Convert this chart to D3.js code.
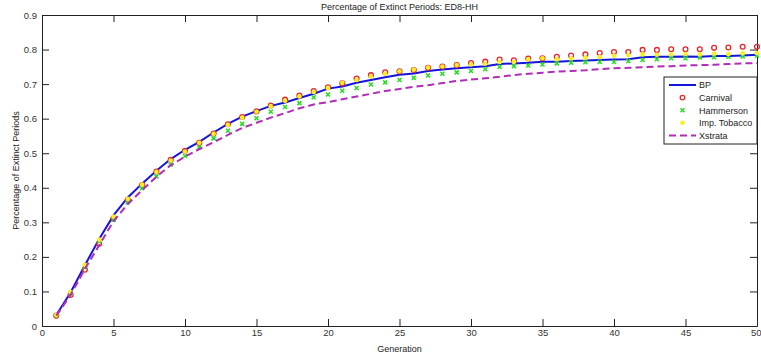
<!DOCTYPE html>
<html>
<head>
<meta charset="utf-8">
<script src="https://cdn.jsdelivr.net/npm/d3@7"></script>
<style>
  body { margin: 0; background: #fff; }
  svg { display: block; font-family: "Liberation Sans", Arial, sans-serif; }
</style>
</head>
<body>
<div id="wrapper"></div>
<script>
// generations 1..50
const generations = d3.range(1, 51);

const bp = [0.032,0.097,0.176,0.252,0.320,0.372,0.412,0.449,0.483,0.510,
  0.533,0.560,0.585,0.606,0.622,0.637,0.647,0.660,0.672,0.687,
  0.693,0.704,0.712,0.720,0.727,0.731,0.738,0.742,0.746,0.749,
  0.752,0.758,0.760,0.762,0.765,0.765,0.767,0.768,0.770,0.771,
  0.772,0.778,0.779,0.779,0.780,0.779,0.781,0.781,0.783,0.785];

const carnival = [0.030,0.090,0.163,0.238,0.312,0.365,0.408,0.447,0.481,0.507,
  0.530,0.557,0.584,0.605,0.621,0.638,0.655,0.667,0.680,0.691,
  0.702,0.716,0.726,0.734,0.737,0.741,0.747,0.751,0.755,0.761,
  0.765,0.771,0.769,0.774,0.775,0.779,0.783,0.786,0.790,0.793,
  0.793,0.799,0.799,0.801,0.801,0.801,0.805,0.806,0.808,0.808];

const hammerson = [0.031,0.094,0.170,0.245,0.307,0.358,0.399,0.433,0.467,0.492,
  0.517,0.543,0.565,0.585,0.601,0.620,0.634,0.645,0.662,0.670,
  0.681,0.689,0.699,0.705,0.712,0.718,0.725,0.730,0.734,0.738,
  0.743,0.750,0.752,0.754,0.757,0.760,0.762,0.763,0.764,0.764,
  0.767,0.770,0.772,0.775,0.775,0.777,0.778,0.779,0.780,0.782];

const impTobacco = [0.032,0.098,0.177,0.250,0.317,0.368,0.409,0.446,0.479,0.505,
  0.530,0.556,0.582,0.603,0.620,0.636,0.652,0.664,0.677,0.689,
  0.704,0.712,0.722,0.730,0.737,0.742,0.748,0.751,0.755,0.757,
  0.759,0.764,0.764,0.772,0.775,0.772,0.774,0.776,0.778,0.782,
  0.784,0.786,0.785,0.786,0.787,0.786,0.788,0.787,0.789,0.790];

const xstrata = [0.030,0.090,0.165,0.234,0.303,0.353,0.393,0.432,0.465,0.490,
  0.512,0.532,0.553,0.573,0.588,0.603,0.616,0.630,0.641,0.648,
  0.656,0.664,0.672,0.680,0.686,0.692,0.697,0.703,0.709,0.713,
  0.717,0.721,0.726,0.730,0.733,0.736,0.738,0.740,0.743,0.746,
  0.747,0.749,0.751,0.752,0.754,0.755,0.756,0.758,0.760,0.761];

const xTicks = [0, 5, 10, 15, 20, 25, 30, 35, 40, 45, 50];
const yTicks = [0, 0.1, 0.2, 0.3, 0.4, 0.5, 0.6, 0.7, 0.8, 0.9];

// Dimensions
const dimensions = {
  width: 761,
  height: 359,
  margins: { top: 15, right: 4, bottom: 33, left: 42 }
};
dimensions.boundedWidth = dimensions.width - dimensions.margins.left - dimensions.margins.right;
dimensions.boundedHeight = dimensions.height - dimensions.margins.top - dimensions.margins.bottom;

const wrapper = d3.select("#wrapper")
  .append("svg")
    .attr("width", dimensions.width)
    .attr("height", dimensions.height);

const bounds = wrapper.append("g")
  .attr("transform", `translate(${dimensions.margins.left},${dimensions.margins.top})`);

// Scales
const xScale = d3.scaleLinear()
  .domain([0, 50])
  .range([0, dimensions.boundedWidth]);

const yScale = d3.scaleLinear()
  .domain([0, 0.9])
  .range([dimensions.boundedHeight, 0]);

// Axes (ticks pointing inward on all four sides)
const tickLen = 7;
const fmtY = d => d === 0 ? "0" : d3.format(".1f")(d);

const xAxis = bounds.append("g")
  .attr("transform", `translate(0,${dimensions.boundedHeight})`)
  .call(d3.axisBottom(xScale).tickValues(xTicks).tickSizeInner(-tickLen).tickSizeOuter(0).tickPadding(3));

// keep the last label inside the window
xAxis.selectAll(".tick text").filter(d => d === 50).attr("text-anchor", "end").attr("x", 4);

const xAxisTop = bounds.append("g")
  .call(d3.axisTop(xScale).tickValues(xTicks).tickSizeInner(-tickLen).tickSizeOuter(0).tickFormat(""));

const yAxis = bounds.append("g")
  .call(d3.axisLeft(yScale).tickValues(yTicks).tickSizeInner(-tickLen).tickSizeOuter(0).tickPadding(5).tickFormat(fmtY));

const yAxisRight = bounds.append("g")
  .attr("transform", `translate(${dimensions.boundedWidth},0)`)
  .call(d3.axisRight(yScale).tickValues(yTicks).tickSizeInner(-tickLen).tickSizeOuter(0).tickFormat(""));

[xAxis, xAxisTop, yAxis, yAxisRight].forEach(a => {
  a.selectAll("path.domain").attr("stroke", "#222").attr("stroke-width", 1);
  a.selectAll(".tick line").attr("stroke", "#222");
  a.selectAll(".tick text").attr("fill", "#333").style("font-size", "9.5px");
});

// Series
const line = d3.line()
  .x((d, i) => xScale(generations[i]))
  .y(d => yScale(d));

bounds.append("path")
  .datum(bp)
  .attr("fill", "none")
  .attr("stroke", "#1414dc")
  .attr("stroke-width", 2)
  .attr("d", line);

bounds.append("g").selectAll("circle")
  .data(carnival)
  .join("circle")
    .attr("cx", (d, i) => xScale(generations[i]))
    .attr("cy", d => yScale(d))
    .attr("r", 2.4)
    .attr("fill", "none")
    .attr("stroke", "#e8262a")
    .attr("stroke-width", 1.3);

const xMark = (g, color) => {
  g.append("path")
    .attr("d", "M-2,-2L2,2M-2,2L2,-2")
    .attr("stroke", color)
    .attr("stroke-width", 1.5);
};

bounds.append("g").selectAll("g")
  .data(hammerson)
  .join("g")
    .attr("transform", (d, i) => `translate(${xScale(generations[i])},${yScale(d)})`)
    .each(function () { xMark(d3.select(this), "#22dd22"); });

bounds.append("g").selectAll("circle")
  .data(impTobacco)
  .join("circle")
    .attr("cx", (d, i) => xScale(generations[i]))
    .attr("cy", d => yScale(d))
    .attr("r", 2.3)
    .attr("fill", "#f7f020");

bounds.append("path")
  .datum(xstrata)
  .attr("fill", "none")
  .attr("stroke", "#b12cb8")
  .attr("stroke-width", 2)
  .attr("stroke-dasharray", "7,4")
  .attr("d", line);

// Title and labels
wrapper.append("text")
  .attr("x", dimensions.margins.left + dimensions.boundedWidth / 2)
  .attr("y", 10)
  .attr("text-anchor", "middle")
  .attr("fill", "#222")
  .style("font-size", "9px")
  .text("Percentage of Extinct Periods: ED8-HH");

wrapper.append("text")
  .attr("x", dimensions.margins.left + dimensions.boundedWidth / 2)
  .attr("y", 352)
  .attr("text-anchor", "middle")
  .attr("fill", "#222")
  .style("font-size", "9px")
  .text("Generation");

wrapper.append("text")
  .attr("transform", `translate(19,${dimensions.margins.top + dimensions.boundedHeight / 2}) rotate(-90)`)
  .attr("text-anchor", "middle")
  .attr("fill", "#222")
  .style("font-size", "9px")
  .text("Percentage of Extinct Periods");

// Legend
const legendItems = [
  { name: "BP", type: "line", color: "#1414dc" },
  { name: "Carnival", type: "circle", color: "#e8262a" },
  { name: "Hammerson", type: "x", color: "#22dd22" },
  { name: "Imp. Tobacco", type: "dot", color: "#f7f020" },
  { name: "Xstrata", type: "dash", color: "#b12cb8" }
];

const box = wrapper.append("g")
  .attr("transform", `translate(664,77)`);

box.append("rect")
  .attr("x", 0)
  .attr("y", 0)
  .attr("width", 93)
  .attr("height", 67)
  .attr("fill", "#fff")
  .attr("stroke", "#222")
  .attr("stroke-width", 1);

legendItems.forEach((item, i) => {
  const y = 8 + i * 12.6;
  if (item.type === "line" || item.type === "dash") {
    box.append("line")
      .attr("x1", 5).attr("x2", 32)
      .attr("y1", y).attr("y2", y)
      .attr("stroke", item.color)
      .attr("stroke-width", 2)
      .attr("stroke-dasharray", item.type === "dash" ? "7,4" : null);
  } else if (item.type === "circle") {
    box.append("circle")
      .attr("cx", 18.5).attr("cy", y).attr("r", 2.3)
      .attr("fill", "none").attr("stroke", item.color).attr("stroke-width", 1.3);
  } else if (item.type === "x") {
    xMark(box.append("g").attr("transform", `translate(18.5,${y})`), item.color);
  } else {
    box.append("circle")
      .attr("cx", 18.5).attr("cy", y).attr("r", 2.3)
      .attr("fill", item.color);
  }
  box.append("text")
    .attr("x", 35)
    .attr("y", y + 3.3)
    .attr("fill", "#222")
    .style("font-size", "9px")
    .text(item.name);
});
</script>
</body>
</html>
